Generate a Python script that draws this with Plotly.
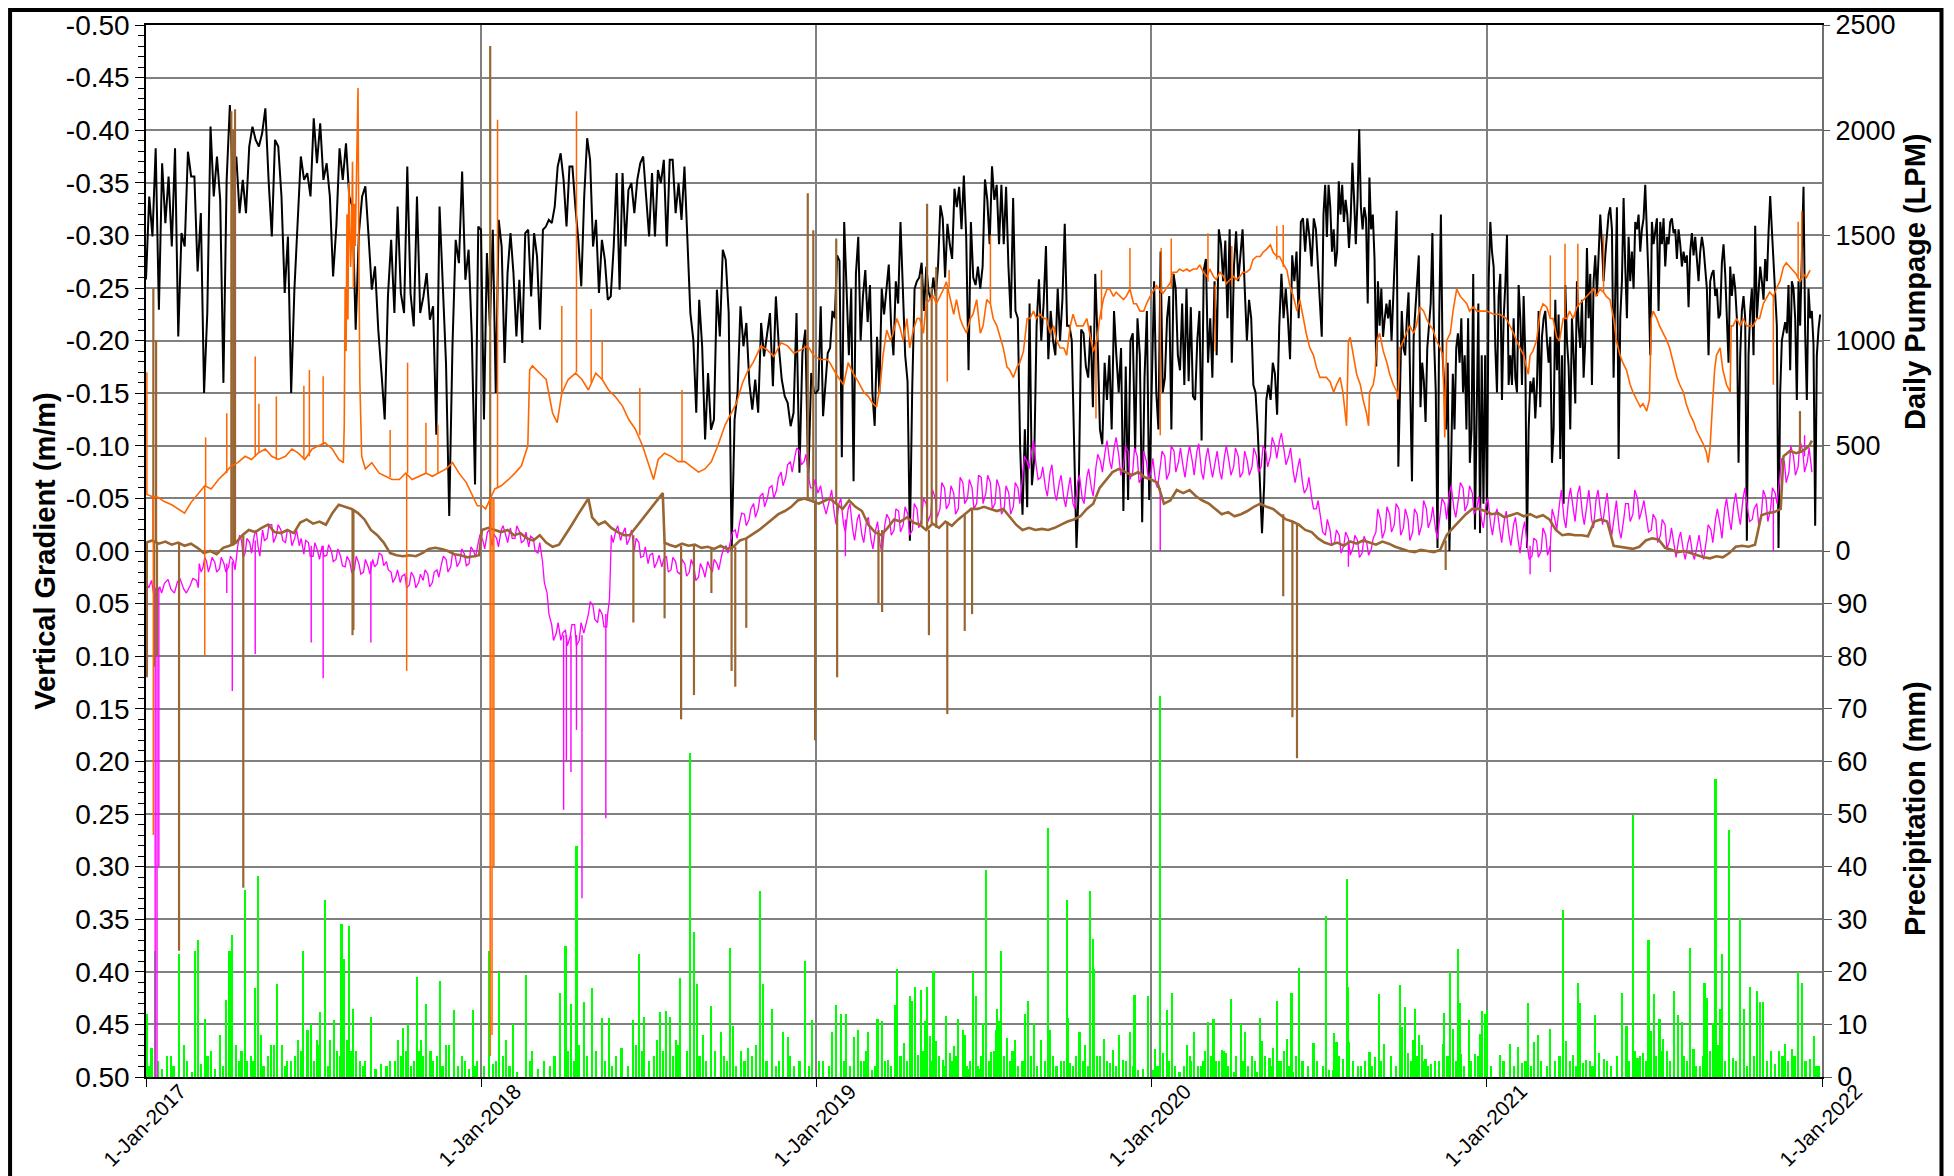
import pandas as pd
import plotly.graph_objects as go

START = pd.Timestamp("2017-01-01")
FONT = "Liberation Sans, Arial, sans-serif"

# ---------------- Daily pumpage (LPM) - black, readings in time order per period ----------------
pump_2017 = [1290, 1685, 1495, 1914, 1147, 1843, 1558, 1780, 1447, 1914,
             1020, 1511, 1447, 1898, 1780, 1780, 1329, 1606, 751, 1131,
             2017, 1685, 1875, 1669, 799, 1764, 2120, 1717, 1875, 1606,
             1764, 1606, 1922, 2017, 1954, 1922, 1985, 2104, 1764, 1495,
             1954, 1922, 1685, 1226, 1495, 751, 1242, 1542, 1875, 1764,
             1796, 1685, 2057, 1843, 2033, 1764, 1843, 1685, 1305, 1542,
             1914, 1764, 1938, 1685, 1637, 1052, 1511, 1685, 1733, 1495,
             1242, 1353, 1052, 846, 625, 1210, 1479, 1131, 1637, 1226,
             1131, 1827, 1226, 1068, 1685, 1131, 1210, 1321, 1099, 1163,
             553, 1637, 1289, 894, 166, 973, 1479, 1368, 1803, 1289,
             1432, 1020, 316, 1542]
pump_2018 = [1527, 625, 1416, 1068, 1527, 751, 1574, 1447, 894, 1321,
             1511, 1321, 1020, 1289, 989, 1511, 1527, 1210, 1511, 1400,
             1052, 1527, 1542, 1574, 1558, 1637, 1827, 1890, 1764, 1542,
             1827, 1827, 1637, 1479, 1258, 1685, 1962, 1859, 1447, 1574,
             1226, 1479, 1384, 1194, 1210, 1447, 1796, 1242, 1796, 1447,
             1716, 1748, 1606, 1764, 1843, 1875, 1685, 1495, 1796, 1495,
             1811, 1748, 1859, 1447, 1859, 1859, 1606, 1748, 1574, 1827,
             1479, 1131, 1005, 657, 1194, 973, 530, 846, 577, 625,
             1242, 1020, 1432, 1384, 1131, 0, 625, 751, 1163, 973,
             1084, 799, 672, 815, 657, 1084, 925, 1036, 1131, 783,
             1210, 973, 815, 736, 704, 593, 657, 1131, 372, 941,
             1052, 340, 846, 751]
pump_2019 = [751, 767, 1163, 641, 783, 941,
             965, 1141, 1106, 1405, 1379, 446, 1564, 1282, 930, 1247,
             331, 1317, 1493, 1000, 1212, 1335, 1088, 1264, 754, 595,
             1018, 754, 1247, 1124, 1247, 1361, 1071, 930, 1282, 1176,
             1564, 1247, 930, 807, 49, 771, 1247, 1282, 1300, 1370,
             1141, 1352, 1229, 1194, 1300, 1212, 1352, 1643, 1581, 1300,
             1555, 1458, 1388, 1722, 1634, 1731, 1529, 1784, 1493, 859,
             1564, 1300, 1264, 1352, 1247, 1352, 1766, 1669, 1458, 1828,
             1669, 1740, 1458, 1740, 1458, 1731, 1352, 1106, 1678, 1141,
             1106, 490, 173, 578, 208, 1176, 313, 437, 1071, 1291,
             1000, 1176, 1449, 912, 1141, 1000, 930, 1247, 1000, 1194,
             1555, 1071, 1071, 1000, 437, 14, 313, 1053, 1035, 877,
             824, 1071, 683, 1317, 1000, 578, 507, 895, 718, 930,
             578, 1141, 930, 754, 965, 190, 877, 243, 1000, 1035,
             472, 1106, 930, 137, 824, 1141, 243]
pump_2020a = [895, 1282, 754, 578, 1423, 754, 824, 1106, 1212, 578,
              1317, 1247, 930, 859, 1176, 789, 1247, 807, 1159, 736,
              718, 1000, 1141, 525, 1335, 1388, 895, 1106, 824, 1282,
              930, 1529, 1458, 1282, 1476, 1106, 1529, 895, 1352, 1520,
              1282, 1423, 1529, 1247, 1000, 1194, 1106, 789, 754, 578,
              313, 85, 313, 718, 789, 718, 895, 842, 648, 1071,
              1317, 1106, 1247, 1106, 912, 1405, 1282, 1423, 1106, 1564,
              1581, 1423, 1581, 1493, 1352, 1581, 1529, 1317]
pump_2020b = [1018, 1599, 1740, 1493, 1740, 1634, 1423, 1529, 1352, 1423,
              1757, 1599, 1740, 1564, 1669, 1599, 1440, 1581, 1845, 1669,
              1458, 1669, 2004, 1634, 1529, 1634, 1581, 1176, 1775, 1529,
              1599, 1388, 877, 1282, 1071, 1247, 1018, 1106, 1176, 1106,
              1194, 1000, 1194, 1405, 1617, 401, 754, 1141, 965, 930,
              1106, 1229, 771, 331, 1018, 1141, 1264, 1405, 683, 895,
              807, 613, 965, 1071, 1176, 1511, 1000, 754, 14, 1106,
              1599, 930, 789, 578, 895, 0, 401, 842, 578, 965,
              1035, 895, 1106, 754, 930, 578, 1106, 419, 578, 1317,
              102, 578, 1176, 85, 930, 225, 930]
pump_2021 = [173, 1282, 1564, 1423, 1352, 965, 754, 1212, 1317, 718,
             1106, 1264, 1502, 789, 930, 789, 1106, 824, 754, 1264,
             1106, 789, 1212, 930, 14, 578, 807, 754, 824, 630,
             789, 1141, 683, 1018, 1106, 1141, 1000, 895, 1018, 419,
             578, 1194, 859, 1124, 437, 930, 225, 1264, 1000, 877,
             578, 1106, 930, 701, 1282, 1071, 965, 1194, 824, 1000,
             1440, 1106, 1317, 789, 1282, 1405, 1212, 1370, 1599, 1458,
             1282, 1405, 1511, 1599, 1634, 1529, 824, 1282, 1634, 437,
             1106, 1282, 1678, 1352, 1106, 1493, 1282, 1423, 1247, 1564,
             1529, 1599, 1423, 1529, 1581, 1740, 1529, 1282, 930, 1564,
             1458, 1511, 1581, 1141, 1564, 1458, 1581, 1352, 1493, 1458,
             1564, 1581, 1511, 1529, 1388, 1529, 1458, 1352, 1423, 1370,
             1405, 1159, 1423, 1511, 1405, 1493, 1370, 1282, 1423, 1493,
             1440, 1317, 1247, 930, 1282, 1317, 1335, 1212, 1247, 1106,
             1124, 1370, 1458, 1317, 1106, 895, 1352, 1212, 1317, 1247,
             1106, 419, 930, 1141, 1212, 1106, 49, 930, 1141, 1247,
             930, 1546, 1106, 1247, 1352, 1282, 1194, 1388, 1282, 1511,
             1687, 1529, 1352, 1212, 1071, 14, 754, 1000, 1053, 1088,
             1035, 1264, 859, 1282, 1247, 1106, 718, 1282, 1071, 1493,
             1731, 1035, 718, 1247, 1106, 1141, 983, 120, 930, 1053,
             1124]

# ---------------- Vertical gradient (m/m): (day since 1-Jan-2017, value) ----------------
orange_a = [(0,-0.054),(6,-0.052),(13,-0.051),(20,-0.047),(28,-0.044),(35,-0.040),(42,-0.036),(49,-0.046),
            (57,-0.055),(64,-0.062),(71,-0.059),(79,-0.068),(86,-0.074),(93,-0.081),(100,-0.084),(108,-0.090),
            (115,-0.087),(122,-0.093),(130,-0.097),(137,-0.090),(144,-0.087),(152,-0.090),(159,-0.097),(166,-0.093),
            (173,-0.087),(181,-0.097),(188,-0.100),(195,-0.103),(203,-0.097),(210,-0.087),(215,-0.084),
            (216,-0.12),(217,-0.25),(218,-0.19),(219,-0.32),(220,-0.22),(221,-0.35),(223,-0.27),(224,-0.30),
            (225,-0.37),(226,-0.25),(227,-0.33),(228,-0.29),(230,-0.38),(231,-0.44),(232,-0.27),(233,-0.16),(235,-0.09),
            (239,-0.078),(246,-0.084),(254,-0.074),(261,-0.071),(268,-0.068),(276,-0.068),(283,-0.074),(290,-0.068),
            (297,-0.071),(305,-0.074),(312,-0.071),(319,-0.074),(327,-0.078),(334,-0.084),(341,-0.074),(349,-0.065),
            (356,-0.052),(361,-0.043),
            (366,-0.043),(370,-0.040),(380,-0.059),(387,-0.062),(395,-0.068),(402,-0.074),(409,-0.081),(416,-0.100),
            (418,-0.172),(421,-0.176),(429,-0.169),(436,-0.163),(443,-0.131),(448,-0.122),(453,-0.150),(460,-0.163),
            (468,-0.169),(475,-0.163),(482,-0.153),(490,-0.169),(497,-0.163),(504,-0.153),(511,-0.147),(519,-0.138),
            (526,-0.125),(533,-0.116),(541,-0.100),(548,-0.081),(553,-0.068),(558,-0.087),(565,-0.093),(572,-0.090),
            (580,-0.085),(587,-0.085),(594,-0.080),(602,-0.075),(609,-0.078),(616,-0.085),(623,-0.100),(631,-0.120),
            (643,-0.140),(650,-0.160),(655,-0.170),(662,-0.180),(670,-0.195),(677,-0.191),(684,-0.185),(692,-0.198),
            (699,-0.195),(706,-0.188),(713,-0.191),(721,-0.195),(728,-0.185),(735,-0.182),(742,-0.182)]
orange_b = [(745,-0.179),(752,-0.168),(760,-0.158),(765,-0.179),(771,-0.168),(776,-0.161),(782,-0.151),(787,-0.147),
            (792,-0.140),(796,-0.137),(800,-0.158),(803,-0.186),(807,-0.210),(811,-0.200),(814,-0.207),(818,-0.221),
            (821,-0.214),(825,-0.200),(829,-0.221),(832,-0.193),(836,-0.210),(840,-0.221),(843,-0.221),(847,-0.207),
            (850,-0.235),(854,-0.239),(858,-0.242),(861,-0.235),(865,-0.242),(869,-0.249),(872,-0.256),(876,-0.239),
            (880,-0.225),(883,-0.239),(887,-0.221),(890,-0.214),(894,-0.207),(898,-0.221),(901,-0.225),(905,-0.239),
            (909,-0.207),(912,-0.214),(916,-0.239),(920,-0.235),(923,-0.221),(927,-0.214),(930,-0.204),(934,-0.193),
            (938,-0.175),(941,-0.172),(945,-0.165),(949,-0.175),(952,-0.179),(956,-0.190),(960,-0.221),(963,-0.221),
            (967,-0.228),(970,-0.221),(974,-0.225),(978,-0.221),(981,-0.221),(985,-0.207),(989,-0.214),(992,-0.200),
            (996,-0.193),(1000,-0.193),(1003,-0.186),(1007,-0.214),(1010,-0.225),(1014,-0.214),(1018,-0.214),
            (1021,-0.214),(1025,-0.221),(1028,-0.207),(1032,-0.190),(1036,-0.200),(1039,-0.221),(1043,-0.239),
            (1047,-0.249),(1050,-0.249),(1054,-0.242),(1057,-0.246),(1061,-0.242),(1065,-0.239),(1068,-0.242),
            (1072,-0.249),(1076,-0.235),(1079,-0.235),(1083,-0.228),(1087,-0.228),(1090,-0.235),(1094,-0.242),
            (1101,-0.252),(1108,-0.245),(1116,-0.255),(1119,-0.265),(1123,-0.265),(1126,-0.268),(1130,-0.266),
            (1134,-0.268),(1137,-0.266),(1141,-0.268),(1145,-0.268),(1148,-0.272),(1152,-0.265),(1156,-0.261),
            (1159,-0.268),(1163,-0.261),(1166,-0.258),(1170,-0.265),(1174,-0.261),(1177,-0.254),(1181,-0.258),
            (1185,-0.261),(1188,-0.258),(1192,-0.261),(1195,-0.265),(1199,-0.265),(1203,-0.268),(1206,-0.277),
            (1210,-0.280),(1214,-0.280),(1217,-0.284),(1221,-0.287),(1225,-0.291),(1228,-0.284),(1232,-0.280),
            (1235,-0.280),(1239,-0.273),(1243,-0.267),(1246,-0.253),(1250,-0.242),(1254,-0.228),(1257,-0.239),
            (1261,-0.221),(1264,-0.207),(1268,-0.193),(1272,-0.186),(1275,-0.175),(1279,-0.165)]
orange_c = [(1286,-0.165),(1290,-0.161),(1294,-0.151),(1297,-0.158),(1301,-0.165),(1304,-0.151),(1308,-0.119),
            (1310,-0.200),(1312,-0.203),(1315,-0.186),(1319,-0.168),(1323,-0.158),(1326,-0.144),(1330,-0.130),
            (1332,-0.119),(1333,-0.151),(1337,-0.158),(1339,-0.168),(1341,-0.200),(1344,-0.207),(1348,-0.190),
            (1352,-0.179),(1355,-0.168),(1359,-0.158),(1363,-0.151),(1364,-0.144),(1366,-0.193),(1370,-0.200),
            (1373,-0.207),(1377,-0.214),(1381,-0.207),(1384,-0.214),(1388,-0.232),(1392,-0.228),(1395,-0.221),
            (1399,-0.214),(1402,-0.211),(1406,-0.200),(1410,-0.193),(1413,-0.186),(1415,-0.108),(1417,-0.200),
            (1421,-0.207),(1424,-0.228),(1428,-0.249),(1432,-0.242),(1435,-0.239),(1439,-0.235),(1442,-0.228),
            (1446,-0.232),(1450,-0.228),(1453,-0.228),(1457,-0.228),
            (1461,-0.228),(1468,-0.225),(1475,-0.225),(1482,-0.221),(1486,-0.214),(1490,-0.207),(1493,-0.200),
            (1497,-0.193),(1501,-0.186),(1504,-0.175),(1506,-0.168),(1508,-0.186),(1511,-0.190),(1515,-0.200),
            (1519,-0.228),(1522,-0.235),(1526,-0.232),(1530,-0.221),(1533,-0.221),(1537,-0.203),(1540,-0.200),
            (1544,-0.221),(1548,-0.221),(1551,-0.228),(1555,-0.221),(1559,-0.232),(1562,-0.235),(1566,-0.239),
            (1569,-0.242),(1573,-0.246),(1577,-0.249),(1580,-0.242),(1584,-0.249),(1588,-0.246),(1591,-0.242),
            (1595,-0.239),(1599,-0.221),(1602,-0.200),(1606,-0.186),(1609,-0.179),(1613,-0.172),(1617,-0.158),
            (1620,-0.151),(1624,-0.144),(1628,-0.137),(1631,-0.140),(1635,-0.133),(1638,-0.144),(1640,-0.221),
            (1642,-0.228),(1646,-0.221),(1649,-0.214),(1653,-0.207),(1657,-0.200),(1660,-0.193),(1664,-0.179),
            (1668,-0.165),(1671,-0.158),(1675,-0.151),(1678,-0.140),(1682,-0.130),(1686,-0.123),(1689,-0.115),
            (1693,-0.108),(1697,-0.101),(1700,-0.094),(1702,-0.084),(1704,-0.098),(1706,-0.137),(1707,-0.144),
            (1709,-0.172),(1711,-0.186),(1715,-0.193),(1718,-0.172),(1722,-0.158),(1726,-0.151),(1727,-0.214),
            (1729,-0.214),(1733,-0.221),(1737,-0.214),(1740,-0.221),(1744,-0.214),(1747,-0.214),(1751,-0.214),
            (1755,-0.221),(1758,-0.221),(1762,-0.235),(1766,-0.242),(1769,-0.246),(1773,-0.242),(1776,-0.249),
            (1780,-0.256),(1784,-0.270),(1787,-0.274),(1791,-0.270),(1795,-0.267),(1798,-0.263),(1802,-0.256),
            (1806,-0.263),(1809,-0.260),(1813,-0.267)]
# spikes: (day, level before spike, spike tip)
orange_spikes = [(1,-0.054,-0.17),(8,-0.052,0.27),(64,-0.062,0.099),(65,-0.062,-0.108),(88,-0.074,-0.131),
                 (119,-0.09,-0.185),(123,-0.093,-0.14),(142,-0.087,-0.147),(172,-0.087,-0.157),(178,-0.09,-0.172),
                 (193,-0.1,-0.166),(266,-0.07,-0.115),(284,-0.074,0.114),(285,-0.074,-0.179),(305,-0.074,-0.122),
                 (318,-0.074,-0.12),(375,-0.05,0.48),(377,-0.05,0.46),(379,-0.05,0.30),(383,-0.06,-0.41),
                 (453,-0.15,-0.233),(469,-0.17,-0.418),(485,-0.16,-0.23),(497,-0.163,-0.20),(538,-0.11,-0.155),
                 (584,-0.085,-0.153),(873,-0.25,-0.161),(875,-0.25,-0.267),(920,-0.235,-0.30),(1035,-0.2,-0.126),
                 (1041,-0.22,-0.267),(1072,-0.249,-0.288),(1105,-0.245,-0.11),(1106,-0.245,-0.288),
                 (1117,-0.25,-0.297),(1157,-0.256,-0.302),(1165,-0.253,-0.19),(1183,-0.253,-0.29),
                 (1232,-0.277,-0.309),(1239,-0.27,-0.31),(1530,-0.221,-0.281),(1546,-0.221,-0.292),
                 (1560,-0.232,-0.292),(1588,-0.246,-0.30),(1773,-0.242,-0.158),(1800,-0.26,-0.313),
                 (1804,-0.26,-0.323)]

magenta_a = [(0,0.030),(3,0.035),(6,0.028),(9,0.045),(15,0.034),(20,0.031),(27,0.036),(34,0.030),(41,0.036),
             (48,0.033),(55,0.028),(58,0.012),(62,0.016),(66,0.010),(70,0.014),(75,0.011),(80,0.017),(85,0.012),
             (90,0.015),(95,0.009),(100,-0.005),(104,-0.010),(108,0.002),(113,-0.008),(118,-0.015),(122,-0.005),
             (127,-0.020),(132,-0.012),(137,-0.025),(142,-0.015),(147,-0.020),(152,-0.008),(157,-0.018),
             (162,-0.012),(167,-0.005),(172,0.003),(177,-0.008),(182,0.005),(187,0.000),(192,-0.005),(197,0.004),
             (202,0.000),(207,0.008),(212,0.005),(217,0.015),(222,0.010),(227,0.018),(232,0.012),(237,0.020),
             (242,0.015),(247,0.008),(252,0.012),(257,0.004),(262,0.010),(267,0.020),(272,0.025),(277,0.030),
             (282,0.022),(287,0.032),(292,0.025),(297,0.030),(302,0.028),(307,0.022),(312,0.030),(317,0.018),
             (322,0.012),(327,0.008),(332,0.015),(337,0.005),(342,0.010),(347,0.003),(352,0.012),(357,0.000),
             (362,-0.008),(367,-0.010),(372,-0.018),(377,-0.005),(382,-0.012),(387,-0.020),(392,-0.015),
             (397,-0.022),(402,-0.012),(407,-0.018),(412,-0.010),(417,-0.004),(422,-0.012),(427,0.002),(432,0.010),
             (437,0.040),(442,0.070),(447,0.078),(452,0.085),(457,0.075),(462,0.082),(467,0.070),(472,0.085),
             (477,0.078),(482,0.060),(487,0.052),(492,0.068),(497,0.060),(502,0.072),(505,0.045),(507,-0.015),
             (512,-0.020),(517,-0.010),(522,-0.022),(527,-0.012),(532,0.000),(537,-0.008),(542,0.005),(547,0.012),
             (552,0.002),(557,0.010),(562,0.015),(567,0.005),(572,0.018),(577,0.010),(582,0.022),(587,0.012),
             (592,0.020),(597,0.015),(602,0.025),(607,0.018),(612,0.010),(617,0.020),(622,0.012),(627,0.005),
             (632,-0.005),(637,-0.010),(642,-0.020),(647,-0.028),(652,-0.035),(657,-0.030),(662,-0.045),
             (667,-0.040),(672,-0.055),(677,-0.050),(682,-0.062),(687,-0.058),(692,-0.075),(697,-0.070),
             (702,-0.085),(707,-0.090),(712,-0.095),(717,-0.085),(722,-0.070),(727,-0.060)]
magenta_a_between = [(17,0.040),(24,0.027),(31,0.040),(37,0.026),(44,0.040),(51,0.026),(57,0.035),(60,0.020),
             (64,0.006),(68,0.020),(72,0.006),(77,0.020),(82,0.006),(87,0.020),(92,0.005),(97,0.018),(102,-0.015),
             (106,0.006),(110,-0.012),(115,0.002),(120,-0.020),(124,0.005),(129,-0.010),(134,-0.025),(139,-0.008),
             (144,-0.025),(149,-0.010),(154,-0.020),(159,-0.005),(164,-0.020),(169,-0.012),(174,-0.010),(179,0.005),
             (184,-0.008),(189,0.008),(194,0.005),(199,-0.006),(204,0.010),(209,-0.002),(214,0.014),(219,0.005),
             (224,0.020),(229,0.005),(234,0.022),(239,0.008),(244,0.022),(249,0.015),(254,0.002),(259,0.014),
             (264,0.018),(269,0.030),(274,0.018),(279,0.024),(284,0.035),(289,0.020),(294,0.035),(299,0.022),
             (304,0.018),(309,0.034),(314,0.020),(319,0.025),(324,0.005),(329,0.020),(334,0.002),(339,0.015),
             (344,-0.002),(349,0.014),(354,-0.004),(359,0.006),(364,-0.016),(369,-0.002),(374,-0.020),(379,-0.016),
             (384,-0.004),(389,-0.024),(394,-0.008),(399,-0.012),(404,-0.024),(409,-0.008),(414,-0.018),
             (419,-0.014),(424,0.000),(429,-0.008),(434,0.030),(439,0.060),(444,0.085),(449,0.068),(454,0.078),
             (459,0.090),(464,0.070),(469,0.090),(474,0.068),(479,0.070),(484,0.048),(489,0.065),(494,0.055),
             (499,0.072),(503,0.060),(509,-0.008),(514,-0.024),(519,-0.016),(524,-0.006),(529,-0.020),(534,-0.012),
             (539,0.006),(544,-0.004),(549,0.004),(554,0.016),(559,0.004),(564,0.008),(569,0.020),(574,0.006),
             (579,0.020),(584,0.008),(589,0.024),(594,0.008),(599,0.028),(604,0.012),(609,0.025),(614,0.015),
             (619,0.008),(624,0.018),(629,-0.002),(634,0.002),(639,-0.018),(644,-0.012),(649,-0.036),(654,-0.024),
             (659,-0.040),(664,-0.032),(669,-0.052),(674,-0.042),(679,-0.060),(684,-0.050),(689,-0.070),
             (694,-0.062),(699,-0.082),(704,-0.075),(709,-0.098),(714,-0.082),(719,-0.092),(724,-0.060),(729,-0.068)]
magenta_b = [(732,-0.055),(738,-0.045),(745,-0.050),(750,-0.035),(755,-0.045),(760,-0.025),(765,-0.040),
             (770,-0.020),(775,-0.030),(780,-0.015),(785,-0.028),(790,-0.010),(795,-0.020),(800,-0.005),
             (805,-0.025),(810,-0.030),(815,-0.020),(820,-0.038),(825,-0.025),(830,-0.035),(835,-0.020),
             (840,-0.040),(845,-0.030),(850,-0.045),(855,-0.035),(860,-0.050),(865,-0.040),(870,-0.060),
             (875,-0.045),(880,-0.055),(885,-0.040),(890,-0.065),(895,-0.050),(900,-0.060),(905,-0.045),
             (910,-0.070),(915,-0.055),(920,-0.065),(925,-0.045),(930,-0.060),(935,-0.040),(940,-0.055),
             (945,-0.042),(950,-0.060),(955,-0.070),(960,-0.085),(965,-0.095),(970,-0.080),(975,-0.070),
             (980,-0.060),(985,-0.075),(990,-0.055),(995,-0.065),(1000,-0.050),(1005,-0.060),(1010,-0.045),
             (1015,-0.065),(1020,-0.050),(1025,-0.070),(1030,-0.060),(1035,-0.080),(1040,-0.085),(1045,-0.095),
             (1050,-0.085),(1055,-0.100),(1060,-0.090),(1065,-0.080),(1070,-0.095),(1075,-0.075),(1080,-0.090),
             (1085,-0.070),(1090,-0.085),(1095,-0.075),(1100,-0.065),(1105,-0.080),(1110,-0.090),(1115,-0.075),
             (1120,-0.095),(1125,-0.085),(1130,-0.080),(1135,-0.090),(1140,-0.085),(1145,-0.095),(1150,-0.075),
             (1155,-0.090),(1160,-0.080),(1165,-0.085),(1170,-0.075),(1175,-0.090),(1180,-0.085),(1185,-0.080),
             (1190,-0.090),(1195,-0.075),(1200,-0.085),(1205,-0.080),(1210,-0.090),(1215,-0.080),(1220,-0.095),
             (1225,-0.090),(1230,-0.100),(1235,-0.105),(1240,-0.095),(1245,-0.090),(1250,-0.075),(1255,-0.080),
             (1260,-0.065),(1265,-0.060),(1270,-0.050),(1275,-0.040),(1280,-0.030)]
magenta_c = [(1285,-0.015),(1290,-0.020),(1295,-0.008),(1300,-0.015),(1305,-0.005),(1310,-0.012),(1315,-0.003),
             (1320,-0.010),(1325,0.002),(1330,-0.008),(1335,-0.002),(1340,-0.018),(1345,-0.030),(1350,-0.020),
             (1355,-0.035),(1360,-0.025),(1365,-0.040),(1370,-0.022),(1375,-0.030),(1380,-0.018),(1385,-0.035),
             (1390,-0.025),(1395,-0.040),(1400,-0.030),(1405,-0.020),(1410,-0.035),(1415,-0.045),(1420,-0.055),
             (1425,-0.040),(1430,-0.050),(1435,-0.060),(1440,-0.045),(1445,-0.055),(1450,-0.040),(1455,-0.030),
             (1460,-0.045),(1465,-0.025),(1470,-0.035),(1475,-0.020),(1480,-0.030),(1485,-0.015),(1490,-0.025),
             (1495,-0.010),(1500,-0.020),(1505,-0.005),(1510,0.005),(1515,-0.010),(1520,0.000),(1525,-0.015),
             (1530,-0.005),(1535,-0.030),(1540,-0.045),(1545,-0.030),(1550,-0.050),(1555,-0.040),(1560,-0.055),
             (1565,-0.035),(1570,-0.045),(1575,-0.030),(1580,-0.050),(1585,-0.035),(1590,-0.045),(1595,-0.025),
             (1600,-0.035),(1605,-0.020),(1610,-0.030),(1615,-0.045),(1620,-0.035),(1625,-0.050),(1630,-0.040),
             (1635,-0.030),(1640,-0.020),(1645,-0.030),(1650,-0.015),(1655,-0.025),(1660,-0.010),(1665,-0.005),
             (1670,-0.012),(1675,0.000),(1680,-0.008),(1685,0.003),(1690,-0.005),(1695,0.002),(1700,-0.010),
             (1705,-0.020),(1710,-0.030),(1715,-0.025),(1720,-0.040),(1725,-0.030),(1730,-0.045),(1735,-0.035),
             (1740,-0.050),(1745,-0.040),(1750,-0.030),(1755,-0.045),(1760,-0.035),(1765,-0.050),(1770,-0.040),
             (1775,-0.055),(1780,-0.070),(1785,-0.085),(1790,-0.075),(1795,-0.090),(1800,-0.080),(1805,-0.095),
             (1810,-0.085),(1815,-0.075)]
magenta_bc_between = [(735,-0.062),(741,-0.035),(747,-0.058),(752,-0.025),(757,-0.050),(762,-0.018),(767,-0.045),
             (772,-0.010),(777,-0.035),(782,-0.008),(787,-0.032),(792,-0.002),(797,-0.028),(802,0.002),(807,-0.035),
             (812,-0.015),(817,-0.040),(822,-0.018),(827,-0.042),(832,-0.015),(837,-0.045),(842,-0.022),(847,-0.050),
             (852,-0.028),(857,-0.058),(862,-0.032),(867,-0.065),(872,-0.040),(877,-0.062),(882,-0.035),(887,-0.070),
             (892,-0.045),(897,-0.068),(902,-0.040),(907,-0.072),(912,-0.045),(917,-0.072),(922,-0.040),(927,-0.068),
             (932,-0.035),(937,-0.062),(942,-0.035),(947,-0.065),(952,-0.045),(957,-0.090),(962,-0.078),(967,-0.105),
             (972,-0.068),(977,-0.080),(982,-0.052),(987,-0.082),(992,-0.048),(997,-0.072),(1002,-0.042),
             (1007,-0.070),(1012,-0.040),(1017,-0.072),(1022,-0.045),(1027,-0.078),(1032,-0.052),(1037,-0.092),
             (1042,-0.075),(1047,-0.105),(1052,-0.078),(1057,-0.108),(1062,-0.072),(1067,-0.100),(1072,-0.068),
             (1077,-0.098),(1082,-0.065),(1087,-0.095),(1092,-0.068),(1097,-0.088),(1102,-0.060),(1107,-0.095),
             (1112,-0.068),(1117,-0.100),(1122,-0.075),(1127,-0.098),(1132,-0.070),(1137,-0.100),(1142,-0.072),
             (1147,-0.102),(1152,-0.068),(1157,-0.098),(1162,-0.070),(1167,-0.095),(1172,-0.068),(1177,-0.100),
             (1182,-0.072),(1187,-0.098),(1192,-0.070),(1197,-0.095),(1202,-0.072),(1207,-0.098),(1212,-0.075),
             (1217,-0.100),(1222,-0.080),(1227,-0.108),(1232,-0.088),(1237,-0.112),(1242,-0.082),(1247,-0.098),
             (1252,-0.065),(1257,-0.088),(1262,-0.055),(1267,-0.070),(1272,-0.040),(1277,-0.048),(1282,-0.018),
             (1287,-0.030),(1292,-0.005),(1297,-0.020),(1302,0.002),(1307,-0.018),(1312,0.004),(1317,-0.015),
             (1322,0.006),(1327,-0.014),(1332,0.004),(1337,-0.012),(1342,-0.040),(1347,-0.012),(1352,-0.042),
             (1357,-0.018),(1362,-0.045),(1367,-0.015),(1372,-0.040),(1377,-0.010),(1382,-0.040),(1387,-0.015),
             (1392,-0.048),(1397,-0.022),(1402,-0.042),(1407,-0.012),(1412,-0.050),(1417,-0.030),(1422,-0.062),
             (1427,-0.032),(1432,-0.065),(1437,-0.038),(1442,-0.062),(1447,-0.035),(1452,-0.052),(1457,-0.022),
             (1462,-0.050),(1467,-0.015),(1472,-0.040),(1477,-0.008),(1482,-0.038),(1487,-0.005),(1492,-0.032),
             (1497,0.002),(1502,-0.028),(1507,0.008),(1512,-0.012),(1517,0.006),(1522,-0.022),(1527,0.004),
             (1532,-0.040),(1537,-0.020),(1542,-0.058),(1547,-0.022),(1552,-0.060),(1557,-0.028),(1562,-0.062),
             (1567,-0.025),(1572,-0.058),(1577,-0.022),(1582,-0.058),(1587,-0.025),(1592,-0.055),(1597,-0.015),
             (1602,-0.048),(1607,-0.012),(1612,-0.045),(1617,-0.028),(1622,-0.058),(1627,-0.030),(1632,-0.048),
             (1637,-0.018),(1642,-0.035),(1647,-0.008),(1652,-0.030),(1657,-0.002),(1662,-0.022),(1667,0.006),
             (1672,-0.018),(1677,0.008),(1682,-0.015),(1687,0.008),(1692,-0.015),(1697,0.008),(1702,-0.025),
             (1707,-0.008),(1712,-0.040),(1717,-0.012),(1722,-0.050),(1727,-0.020),(1732,-0.055),(1737,-0.025),
             (1742,-0.060),(1747,-0.028),(1752,-0.040),(1757,-0.025),(1762,-0.058),(1767,-0.028),(1772,-0.060),
             (1777,-0.045),(1782,-0.088),(1787,-0.065),(1792,-0.100),(1797,-0.072),(1802,-0.105),(1807,-0.075),
             (1812,-0.098)]
magenta_spikes = [(10,0.035,0.50),(12,0.035,0.50),(14,0.035,0.30),(88,0.012,0.04),(94,0.01,0.133),
                  (119,-0.01,0.098),(180,-0.005,0.087),(193,-0.005,0.121),(245,0.01,0.087),(284,0.025,0.05),
                  (455,0.08,0.246),(458,0.08,0.20),(463,0.08,0.21),(469,0.08,0.17),(475,0.08,0.33),
                  (501,0.06,0.254),(762,-0.03,0.005),(1105,-0.06,0.0),(1310,-0.01,0.015),(1508,-0.005,0.022),
                  (1530,-0.005,0.02),(1773,-0.05,0.0),(1807,-0.09,-0.11)]

brown_a = [(0,-0.008),(7,-0.010),(14,-0.007),(21,-0.009),(28,-0.006),(35,-0.008),(42,-0.005),(49,-0.007),
           (56,-0.003),(63,0.002),(70,0.000),(77,0.003),(84,-0.003),(91,-0.005),(98,-0.008),(105,-0.015),
           (112,-0.020),(119,-0.018),(126,-0.022),(133,-0.025),(140,-0.018),(147,-0.017),(154,-0.020),
           (161,-0.017),(168,-0.027),(175,-0.030),(182,-0.026),(189,-0.028),(196,-0.025),(203,-0.036),
           (210,-0.044),(217,-0.042),(224,-0.040),(231,-0.036),(238,-0.030),(245,-0.020),(252,-0.015),
           (259,-0.008),(266,0.002),(273,0.004),(280,0.005),(287,0.004),(294,0.005),(301,0.002),(308,-0.002),
           (315,-0.003),(322,-0.002),(329,0.000),(336,0.003),(343,0.004),(350,0.006),(357,0.005),(363,0.004),
           (366,-0.020),(373,-0.022),(380,-0.020),(387,-0.018),(394,-0.020),(401,-0.015),(408,-0.017),
           (415,-0.012),(422,-0.010),(429,-0.015),(436,-0.008),(443,-0.004),(450,-0.006),(457,-0.015),
           (464,-0.025),(471,-0.035),(478,-0.045),(482,-0.050),(486,-0.032),(493,-0.025),(500,-0.028),
           (507,-0.022),(514,-0.018),(521,-0.015),(527,-0.015),(563,-0.055),(565,-0.008),(570,-0.006),
           (577,-0.004),(584,-0.007),(591,-0.005),(598,-0.006),(605,-0.003),(612,-0.004),(619,-0.002),
           (626,-0.005),(633,-0.002),(640,-0.004),(647,-0.010),(654,-0.012),(661,-0.016),(668,-0.020),
           (675,-0.025),(682,-0.030),(689,-0.035),(696,-0.038),(703,-0.042),(710,-0.048),(717,-0.050),
           (724,-0.048),(729,-0.046)]
brown_b = [(733,-0.045),(740,-0.048),(745,-0.050),(752,-0.045),(759,-0.040),(766,-0.048),(773,-0.042),
           (780,-0.038),(787,-0.025),(794,-0.018),(801,-0.015),(808,-0.022),(815,-0.030),(822,-0.028),
           (829,-0.032),(836,-0.027),(843,-0.025),(850,-0.020),(857,-0.026),(864,-0.022),(871,-0.028),
           (878,-0.024),(885,-0.030),(892,-0.035),(899,-0.040),(906,-0.040),(913,-0.042),(920,-0.040),
           (927,-0.038),(934,-0.040),(941,-0.032),(948,-0.025),(955,-0.020),(962,-0.022),(969,-0.020),
           (976,-0.021),(983,-0.020),(990,-0.022),(997,-0.025),(1004,-0.028),(1011,-0.030),(1018,-0.033),
           (1025,-0.040),(1032,-0.045),(1039,-0.060),(1046,-0.068),(1053,-0.075),(1060,-0.078),(1067,-0.075),
           (1074,-0.072),(1081,-0.075),(1088,-0.070),(1095,-0.068),(1102,-0.065),(1109,-0.045),(1116,-0.048),
           (1123,-0.058),(1130,-0.055),(1137,-0.058),(1144,-0.052),(1151,-0.048),(1158,-0.045),(1165,-0.040),
           (1172,-0.035),(1179,-0.037),(1186,-0.033),(1193,-0.035),(1200,-0.038),(1207,-0.042),(1214,-0.045),
           (1221,-0.042),(1228,-0.040),(1235,-0.035),(1242,-0.030),(1249,-0.028),(1256,-0.025),(1263,-0.020),
           (1270,-0.018),(1277,-0.012)]
brown_c = [(1284,-0.008),(1291,-0.006),(1298,-0.008),(1305,-0.005),(1312,-0.009),(1319,-0.007),(1326,-0.010),
           (1333,-0.008),(1340,-0.006),(1347,-0.009),(1354,-0.007),(1361,-0.004),(1368,-0.002),(1375,0.000),
           (1382,0.001),(1389,-0.001),(1396,0.000),(1403,0.001),(1410,-0.001),(1417,-0.015),(1424,-0.022),
           (1431,-0.028),(1438,-0.035),(1445,-0.040),(1452,-0.040),(1459,-0.038),(1466,-0.035),(1473,-0.036),
           (1480,-0.032),(1487,-0.034),(1494,-0.036),(1501,-0.033),(1508,-0.035),(1515,-0.032),(1522,-0.034),
           (1529,-0.030),(1536,-0.020),(1543,-0.015),(1550,-0.016),(1557,-0.015),(1564,-0.015),(1571,-0.014),
           (1578,-0.028),(1585,-0.030),(1592,-0.028),(1599,-0.005),(1606,-0.004),(1613,-0.003),(1620,-0.002),
           (1627,-0.004),(1634,-0.010),(1641,-0.012),(1648,-0.011),(1655,-0.003),(1662,-0.001),(1669,0.001),
           (1676,0.000),(1683,0.002),(1690,0.004),(1697,0.006),(1704,0.007),(1711,0.005),(1718,0.006),
           (1725,0.002),(1732,-0.004),(1739,-0.005),(1746,-0.004),(1753,-0.006),(1760,-0.034),(1767,-0.036),
           (1774,-0.037),(1781,-0.040),(1784,-0.090),(1791,-0.095),(1798,-0.093),(1805,-0.095),(1812,-0.100),
           (1815,-0.105)]
brown_spikes = [(1,-0.008,0.12),(8,-0.008,-0.25),(9,-0.008,0.11),(11,-0.008,-0.20),(12,-0.008,0.10),
                (36,-0.008,0.38),(93,-0.005,-0.418),(95,-0.005,-0.40),(97,-0.008,-0.42),(106,-0.015,0.32),
                (225,-0.04,0.08),(226,-0.04,0.075),(375,-0.02,-0.48),(531,-0.015,0.068),(565,-0.008,0.064),
                (583,-0.005,0.16),(597,-0.006,0.137),(616,-0.003,0.04),(638,-0.003,0.114),(642,-0.004,0.129),
                (654,-0.012,0.073),(721,-0.05,-0.34),(727,-0.048,-0.305),(729,-0.048,0.18),(752,-0.045,-0.297),
                (753,-0.045,0.12),(798,-0.02,0.05),(802,-0.02,0.058),(845,-0.025,-0.263),(851,-0.02,-0.33),
                (853,-0.02,0.08),(856,-0.026,-0.25),(861,-0.022,-0.27),(873,-0.028,0.155),(892,-0.035,0.076),
                (900,-0.04,0.06),(1239,-0.035,0.043),(1249,-0.028,0.158),(1254,-0.025,0.197),
                (1416,-0.01,0.018),(1802,-0.093,-0.133)]

# ---------------- Precipitation (mm): (day since 1-Jan-2017, mm) ----------------
rain_2017_2018 = [(1,12),(6,5.5),(10,24),(23,4),(27,4),(36,23.4),(41,6),(53,24),(57,26),(64,11),(71,5),(81,8),
                  (87,14.7),(91,24),(94,27),(98,6),(108,35.6),(110,3),(114,4),(119,17),(122,38.3),(125,8),
                  (139,6),(143,17.7),(148,6),(154,3),(166,7),(171,24),(176,9),(180,10),(186,7),(190,12.4),
                  (195,33.7),(200,7),(205,10.8),(213,29),(216,22.4),(221,28.8),(226,13),(229,5),(239,3),
                  (245,11.5),(256,2.5),(271,3),(275,7),(280,9.3),(285,10),(295,19),(300,7),(305,13.9),(310,5),
                  (320,18.3),(327,6),(336,12.7),(344,4),(356,12.7),(361,3),(374,24),(378,2.5),(385,20),(392,7),
                  (400,10),(414,19.4),(421,5),(434,3),(451,16),(457,25),(463,13.9),(469,44),(477,14.3),(486,17),
                  (497,11.2),(504,11.2),(518,5.5),(531,10.8),(537,23.4),(543,11.5),(560,12.4),(567,12.5),
                  (571,11.5),(577,7),(582,18.9),(593,61.6),(597,27.6),(600,17.7),(607,8),(616,13.5),(626,8.5),
                  (636,24.6),(640,9.7),(648,5),(656,5.5),(669,35.4),(672,17.7),(682,13),(694,8.5),(699,7.7),
                  (718,22),(726,10.8),(738,3)]
rain_2019_2020 = [(747,8.5),(752,13.6),(757,12),(763,12),(771,7.7),(776,9),(782,3),(784,5),(787,8.5),(791,1.3),
                  (797,11),(802,10.6),(808,3.2),(816,13.6),(818,20.6),(826,6.4),(832,15.4),(835,14.5),
                  (838,17.2),(841,4.2),(844,16.5),(849,10.6),(851,17.2),(854,7.8),(858,20.1),(861,6.8),
                  (868,3.2),(872,11.6),(876,4.5),(880,5.8),(885,11.1),(890,9),(892,8),(896,1.5),(901,20),
                  (904,15.4),(908,1.5),(912,10.2),(915,39.3),(921,4.7),(926,9),(927,12.9),(929,10.6),(932,24),
                  (938,7.5),(947,7),(958,12),(961,14.4),(967,10.2),(975,7),(983,47.4),(985,9),(997,3.1),
                  (1003,33.7),(1004,11.3),(1007,2.6),(1013,4),(1017,8.5),(1018,5.1),(1023,6),(1028,35.3),
                  (1032,26.2),(1033,20.6),(1036,3.9),(1044,7.2),(1050,2.7),(1054,5.1),(1060,7.9),(1064,3.2),
                  (1072,8.6),(1077,15.5),(1081,1.3),(1092,15.4),(1097,1.3),(1099,5.4),(1105,72.5),(1108,4.5),
                  (1112,12.7),(1118,15.9),(1126,1),(1131,2),(1134,6),(1137,3.9),(1142,8.5),(1149,2),(1152,3),
                  (1154,4.9),(1157,10.4),(1163,11),(1166,3),(1172,5.1),(1174,5),(1177,4.5),(1182,14.9),
                  (1185,1),(1193,10),(1197,8.5),(1205,3.9),(1210,1),(1214,11.3),(1216,6.8),(1224,3.7),
                  (1228,5.6),(1232,14.4),(1237,3),(1243,7.2),(1248,16),(1250,1),(1256,20.8),(1272,6.5),
                  (1286,30.6),(1289,1.3)]
rain_2020_2021 = [(1293,1.3),(1294,8.4),(1297,6.7),(1304,3.5),(1308,37.7),(1309,17.2),(1311,6.7),(1324,2.1),
                  (1333,4.7),(1339,3.8),(1343,15.8),(1349,6.2),(1366,17.5),(1368,9.6),(1372,13.4),(1375,4.5),
                  (1380,7),(1383,12.9),(1387,8),(1390,6),(1394,3.5),(1400,2.5),(1409,3.1),(1413,6.2),
                  (1414,12.2),(1421,19.9),(1424,9.1),(1429,24.4),(1431,14),(1433,4.3),(1441,10.8),(1448,4.3),
                  (1453,8.2),(1456,12.5),(1459,12),(1461,12.8),(1475,4.1),(1486,6.2),(1495,5.7),(1499,2.6),
                  (1506,14),(1512,6.6),(1517,8),(1530,9.1),(1544,31.8),(1547,6.8),(1555,4.1),(1560,17.9),
                  (1562,14.1),(1566,2.7),(1569,3.2),(1579,11.8),(1583,4.5),(1588,3.5),(1608,15.9),(1613,9.7),
                  (1620,49.8),(1625,3.7),(1631,4.5),(1637,26),(1640,8.8),(1643,15.8),(1649,11.1),(1653,7.3),
                  (1657,4.9),(1665,16.4),(1669,11.7),(1673,10.5),(1682,24.6),(1686,5.3),(1693,2.1),(1698,17.9),
                  (1701,15.1),(1707,10.2),(1710,56.6),(1713,6),(1715,13),(1717,23.3),(1725,47),(1729,3.7),
                  (1737,30.3),(1741,12.9),(1748,17.2),(1755,16.3),(1758,14.2),(1762,14.2),(1775,2.5),(1779,4.9),
                  (1786,6.2),(1793,5.4),(1800,19.9),(1804,17.9),(1813,3.5),(1817,7.8),(1823,2)]
rain_light = [(3,2),(13,3),(17,1.5),(30,2),(45,3),(50,1),(60,2.5),(67,4),(75,1.5),(84,2),(101,3),(104,5),
              (117,3),(128,2),(133,4),(136,6),(151,2),(158,3),(162,4),(169,5),(183,3),(188,6),(198,2),(208,5),
              (211,4),(219,7),(223,5),(233,3),(236,2),(250,1.5),(262,2),(266,3),(278,4),(283,5),(289,2),(292,3),
              (298,5),(302,4),(313,3),(317,4),(323,2),(330,6),(340,2),(348,3),(352,1.5),(359,2),
              (368,2),(381,3),(389,4),(396,2),(404,1),(418,3),(427,1.5),(440,2),(445,4),(460,5),(466,3),(472,6),
              (480,4),(490,5),(500,3),(508,2),(512,4),(525,2),(534,6),(540,5),(548,3),(553,4),(557,7),(563,5),
              (574,4),(580,6),(589,5),(603,4),(610,3),(620,5),(630,4),(633,3),(643,2),(652,3),(660,4),(665,6),
              (676,3),(686,2),(690,3),(702,4),(706,2),(712,3),(722,2),(733,3),
              (744,2),(760,3),(767,2),(779,3),(794,2),(805,3),(812,2),(822,4),(829,3),(846,5),(856,3),(864,4),
              (870,2),(878,3),(882,4),(894,2),(898,3),(906,2),(910,4),(918,3),(924,5),(935,4),(941,3),(944,5),
              (950,2),(955,3),(964,4),(971,2),(979,3),(988,4),(992,2),(1000,3),(1010,2),(1021,3),(1026,2),
              (1039,4),(1047,3),(1057,2),(1068,3),(1075,2),(1086,1.5),
              (1102,2),(1115,3),(1121,2),(1139,3),(1146,2),(1160,4),(1169,3),(1179,2),(1188,4),(1195,3),
              (1201,2),(1208,3),(1219,4),(1226,2),(1235,3),(1240,5),(1245,2),(1253,4),(1260,3),(1266,2),
              (1276,3),(1282,2),(1300,4),(1315,3),(1320,2),(1328,3),(1336,2),(1346,3),(1356,4),(1362,2),
              (1378,3),(1385,4),(1392,3),(1397,2),(1404,3),(1418,4),(1427,3),(1436,2),(1444,3),(1451,4),
              (1465,2),(1479,3),(1490,2),(1503,3),(1509,2),(1520,3),(1526,2),(1535,3),(1540,4),(1551,3),
              (1558,2),(1573,3),(1576,2),(1592,3),(1596,2),(1603,4),(1616,3),(1622,5),(1628,4),(1634,3),
              (1645,4),(1651,5),(1660,3),(1676,4),(1679,3),(1689,2),(1696,4),(1704,5),(1720,3),(1732,3),
              (1744,2),(1752,4),(1766,3),(1770,5),(1783,4),(1789,3),(1796,4),(1808,3),(1820,2)]

grad_ticks = [round(-0.5 + 0.05 * i, 2) for i in range(21)]
grad_labels = ["%.2f" % v if v >= 0 else "-%.2f" % abs(v) for v in grad_ticks]
pump_ticks = [0, 500, 1000, 1500, 2000, 2500]
rain_ticks = [0, 10, 20, 30, 40, 50, 60, 70, 80, 90]
year_ticks = ["2017-01-01", "2018-01-01", "2019-01-01", "2020-01-01", "2021-01-01", "2022-01-01"]
year_labels = ["1-Jan-2017", "1-Jan-2018", "1-Jan-2019", "1-Jan-2020", "1-Jan-2021", "1-Jan-2022"]


def day(d):
    return START + pd.Timedelta(days=d)


def unpack(*lists, sort=False):
    pts = [p for lst in lists for p in lst]
    if sort:
        pts = sorted(pts, key=lambda p: p[0])
    return [day(d) for d, _ in pts], [v for _, v in pts]


def spike_xy(lst):
    xs, ys = [], []
    for d, b, t in lst:
        xs += [day(d), day(d), None]
        ys += [b, t, None]
    return xs, ys


pump_x, pump_y = [], []
for vals, d0, d1 in [(pump_2017, 0, 362), (pump_2018, 365, 728), (pump_2019, 730, 1093),
                     (pump_2020a, 1096, 1277), (pump_2020b, 1281, 1459), (pump_2021, 1461, 1824)]:
    pump_x += list(pd.date_range(day(d0), day(d1), periods=len(vals)))
    pump_y += vals

rx, ry = unpack(rain_2017_2018, rain_2019_2020, rain_2020_2021, rain_light)
ox, oy = unpack(orange_a, orange_b, orange_c)
mx, my = unpack(magenta_a, magenta_a_between, magenta_b, magenta_c, magenta_bc_between, sort=True)
bx, by = unpack(brown_a, brown_b, brown_c)

ORANGE = "#FF6600"
MAGENTA = "#FF00FF"
BROWN = "#996633"
GREEN = "#00FF00"

fig = go.Figure()
fig.add_trace(go.Bar(x=rx, y=ry, width=2.3 * 86400000, marker=dict(color=GREEN, line=dict(width=0)),
                     yaxis="y"))
fig.add_trace(go.Scatter(x=pump_x, y=pump_y, mode="lines", line=dict(color="black", width=2), yaxis="y2"))
sx, sy = spike_xy(magenta_spikes)
fig.add_trace(go.Scatter(x=mx, y=my, mode="lines", line=dict(color=MAGENTA, width=1.3), yaxis="y3"))
fig.add_trace(go.Scatter(x=sx, y=sy, mode="lines", line=dict(color=MAGENTA, width=1.4), yaxis="y3"))
sx, sy = spike_xy(brown_spikes)
fig.add_trace(go.Scatter(x=bx, y=by, mode="lines", line=dict(color=BROWN, width=2.6), yaxis="y3"))
fig.add_trace(go.Scatter(x=sx, y=sy, mode="lines", line=dict(color=BROWN, width=2.2), yaxis="y3"))
sx, sy = spike_xy(orange_spikes)
fig.add_trace(go.Scatter(x=ox, y=oy, mode="lines", line=dict(color=ORANGE, width=1.6), yaxis="y3"))
fig.add_trace(go.Scatter(x=sx, y=sy, mode="lines", line=dict(color=ORANGE, width=1.5), yaxis="y3"))

tick_font = dict(family=FONT, size=27, color="black")
left_tick_font = dict(family=FONT, size=28, color="black")
title_font = dict(family=FONT, size=29, color="black")

# The page body adds an 8px offset, so the figure is sized/margined to land the plot area
# at the reference position inside the 1954x1176 window.
fig.update_layout(
    width=1946, height=1168,
    margin=dict(l=138, r=132, t=17, b=99, autoexpand=False),
    paper_bgcolor="white", plot_bgcolor="white",
    showlegend=False, hovermode=False, bargap=0,
    font=dict(family=FONT, color="black"),
    xaxis=dict(type="date", range=["2017-01-01", "2022-01-01"], tickmode="array", automargin=False,
               tickvals=year_ticks, ticktext=year_labels, tickangle=-45,
               tickfont=dict(family=FONT, size=21, color="black"),
               ticklabelshift=34, ticklabelstandoff=-16,
               showgrid=True, gridcolor="#808080", gridwidth=1.5,
               showline=True, linecolor="black", linewidth=1.5, mirror=True,
               ticks="outside", ticklen=8, tickcolor="black", zeroline=False),
    yaxis=dict(range=[0, 200], side="right", anchor="x", tickmode="array", automargin=False,
               tickvals=rain_ticks, ticktext=[str(v) for v in rain_ticks],
               ticks="outside", ticklen=8, tickcolor="#555555", tickfont=tick_font,
               showgrid=False, zeroline=False, showline=True, linecolor="#707070", linewidth=1.5),
    yaxis2=dict(overlaying="y", anchor="x", side="right", range=[-2500, 2500], tickmode="array",
                automargin=False, tickvals=pump_ticks, ticktext=[str(v) for v in pump_ticks],
                ticks="outside", ticklen=7, tickcolor="#555555", tickfont=tick_font,
                showgrid=False, zeroline=False, showline=False),
    yaxis3=dict(overlaying="y", anchor="x", side="left", range=[0.5, -0.5], tickmode="array",
                automargin=False, tickvals=grad_ticks, ticktext=grad_labels,
                ticks="outside", ticklen=9, tickcolor="black", tickfont=left_tick_font,
                minor=dict(tickmode="linear", tick0=0, dtick=0.01, ticks="outside", ticklen=6,
                           tickcolor="black", showgrid=False),
                showgrid=True, gridcolor="#808080", gridwidth=1.5, zeroline=False,
                showline=True, linecolor="black", linewidth=1.5,
                title=dict(text="<b>Vertical Gradient (m/m)</b>", font=title_font, standoff=2)),
    annotations=[
        dict(text="<b>Daily Pumpage (LPM)</b>", xref="paper", yref="paper", x=1.0555, y=0.7557,
             textangle=-90, showarrow=False, font=title_font, xanchor="center", yanchor="middle"),
        dict(text="<b>Precipitation (mm)</b>", xref="paper", yref="paper", x=1.0555, y=0.2548,
             textangle=-90, showarrow=False, font=title_font, xanchor="center", yanchor="middle"),
    ],
    shapes=[dict(type="rect", xref="paper", yref="paper", x0=-0.0811, x1=1.0713, y0=-0.2, y1=1.0143,
                 line=dict(color="black", width=4), fillcolor="rgba(0,0,0,0)", layer="above")],
)

fig.write_html("out.html")
